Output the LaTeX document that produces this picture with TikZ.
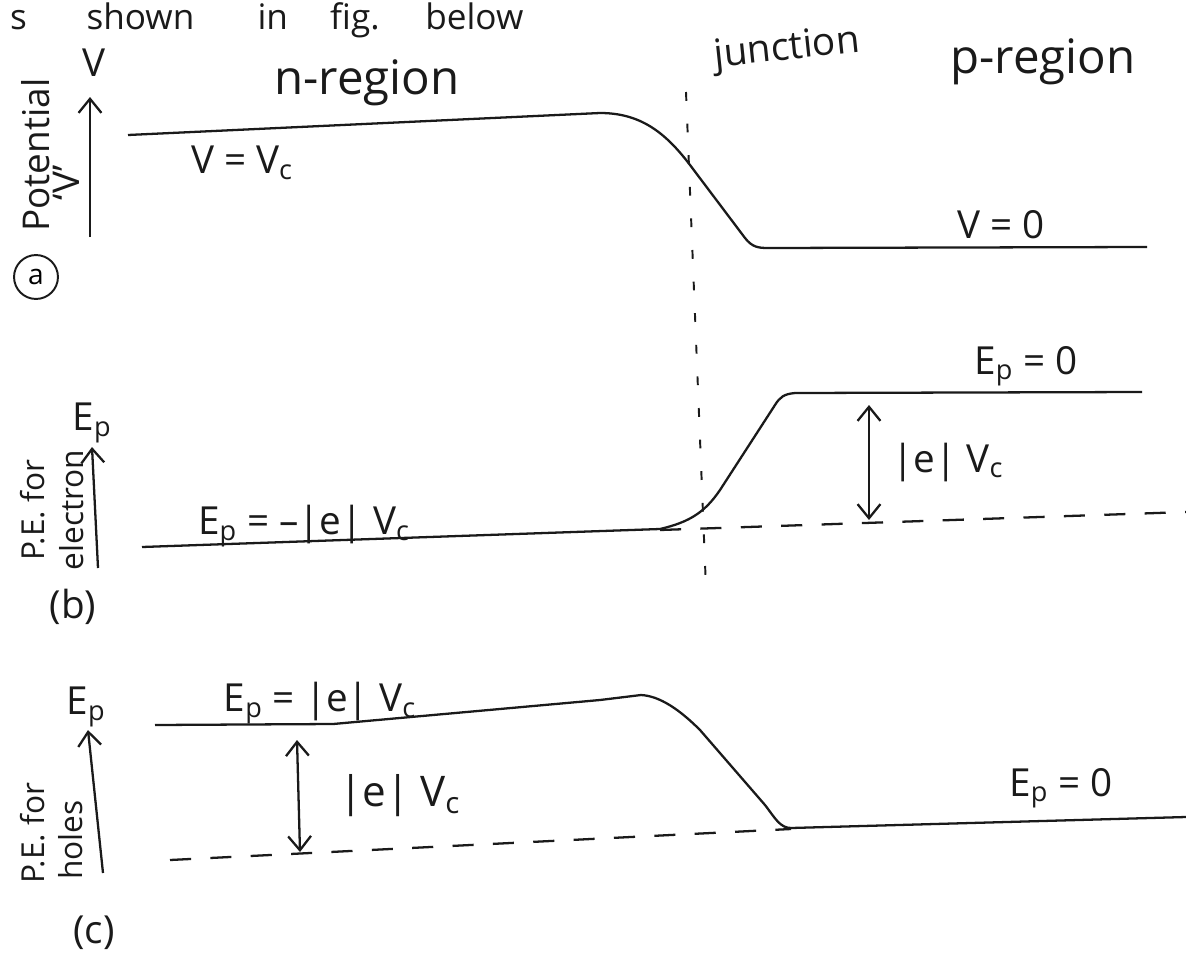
\documentclass[tikz,border=0pt]{standalone}
\usepackage{fontspec}
\setmainfont{Open Sans}
\usepackage{xcolor}
\definecolor{pnink}{HTML}{1A1A1A}
\usepackage{tikz}
\usetikzlibrary{arrows.meta,positioning,calc}
\tikzset{
  pntext/.style={font=\fontsize{22}{26}\selectfont,text=pnink,inner sep=1pt},
  pnregion/.style={font=\fontsize{27}{30}\selectfont,text=pnink,inner sep=1pt},
  pnside/.style={font=\fontsize{18}{22}\selectfont,text=pnink,rotate=90,inner sep=1pt},
  pncurve/.style={draw=pnink,line width=1.3pt,line join=round},
  pnaxis/.style={-{Straight Barb[length=8pt,width=13pt]},draw=pnink,line width=1.3pt},
  pnboth/.style={{Straight Barb[length=8pt,width=13pt]}-{Straight Barb[length=8pt,width=13pt]},draw=pnink,line width=1.3pt},
  pndash/.style={draw=pnink,line width=1.3pt,dash pattern=on 12pt off 11pt},
  pnjunc/.style={draw=pnink,line width=1.1pt,dash pattern=on 5pt off 13pt},
}

\begin{document}
\begin{tikzpicture}[x=0.02cm,y=-0.02cm]
\clip (0,0) rectangle (1186,960);
\fill[white] (0,0) rectangle (1186,960);
% running text above the figure
\node[pntext,font=\fontsize{20}{24}\selectfont,anchor=base west] (top) at (8,30) {s\hspace{34pt}shown\hspace{36pt}in\hspace{24pt}fig.\hspace{26pt}below};
% junction
\coordinate (jt) at (686,92); \coordinate (jb) at (706,588);
\draw[pnjunc] (jt) -- (jb);
\node[pntext,rotate=6] (junc) at (787,50) {junction};
\node[pnregion] (nreg) at (367,83) {n-region};
\node[pnregion] (preg) at (1043,62) {p-region};
% (a) potential
\coordinate (a0) at (90,237); \coordinate (a1) at (90,97);
\draw[pnaxis] (a0) -- (a1);
\node[pntext] (aV) at (94,63) {V};
\node[pnside,font=\fontsize{21}{25}\selectfont] (apot) at (36,155) {Potential};
\node[pnside,font=\fontsize{21}{25}\selectfont] (aq) at (66,183) {`V'};
\node[draw=pnink,circle,line width=1.1pt,minimum size=25pt,inner sep=0pt,font=\fontsize{16}{19}\selectfont] (atag) at (36,277) {a};
\draw[pncurve] (128,135) -- (600,113) .. controls (640,113) and (665,132) .. (690,165) -- (745,238) .. controls (752,247) and (758,248) .. (768,248) -- (1147,247);
\node[pntext] (avc) at (242,163) {V = V\textsubscript{c}};
\node[pntext] (av0) at (1001,225) {V = 0};
% (b) P.E. for electron
\coordinate (b0) at (98,568); \coordinate (b1) at (92,447);
\draw[pnaxis] (b0) -- (b1);
\node[pntext] (bE) at (92,423) {E\textsubscript{p}};
\node[pnside] (bpe) at (33,510) {P.E. for};
\node[pnside] (bel) at (72,510) {electron};
\node[pntext] (btag) at (73,607) {(b)};
\draw[pncurve] (142,547) -- (660,529) .. controls (690,522) and (705,512) .. (720,490) -- (775,405) .. controls (780,397) and (784,394) .. (795,393) -- (1142,392);
\draw[pndash] (660,530) -- (1186,512);
\coordinate (bt) at (869,405); \coordinate (bb) at (869,520);
\draw[pnboth] (bt) -- (bb);
\node[pntext] (bl) at (304,526) {E\textsubscript{p} = --|e| V\textsubscript{c}};
\node[pntext] (br) at (1026,366) {E\textsubscript{p} = 0};
\node[pntext,right=12pt of $(bt)!0.5!(bb)$] (bgap) {|e| V\textsubscript{c}};
% (c) P.E. for holes
\coordinate (c0) at (103,873); \coordinate (c1) at (88,730);
\draw[pnaxis] (c0) -- (c1);
\node[pntext] (cE) at (86,707) {E\textsubscript{p}};
\node[pnside] (cpe) at (33,833) {P.E. for};
\node[pnside] (cho) at (71,840) {holes};
\node[pntext] (ctag) at (94,933) {(c)};
\draw[pncurve] (155,725) -- (333,724) -- (600,700) -- (641,695) .. controls (660,696) and (680,710) .. (700,730) -- (765,805) .. controls (775,818) and (780,828) .. (791,828) -- (1186,817);
\draw[pndash] (170,860) -- (791,829);
\coordinate (ct) at (297,740); \coordinate (cb) at (300,852);
\draw[pnboth] (ct) -- (cb);
\node[pntext] (cl) at (320,703) {E\textsubscript{p} = |e| V\textsubscript{c}};
\node[pntext,font=\fontsize{24}{28}\selectfont,right=22pt of $(ct)!0.5!(cb)$] (cgap) {|e| V\textsubscript{c}};
\node[pntext] (cr) at (1061,788) {E\textsubscript{p} = 0};
\end{tikzpicture}
\end{document}
